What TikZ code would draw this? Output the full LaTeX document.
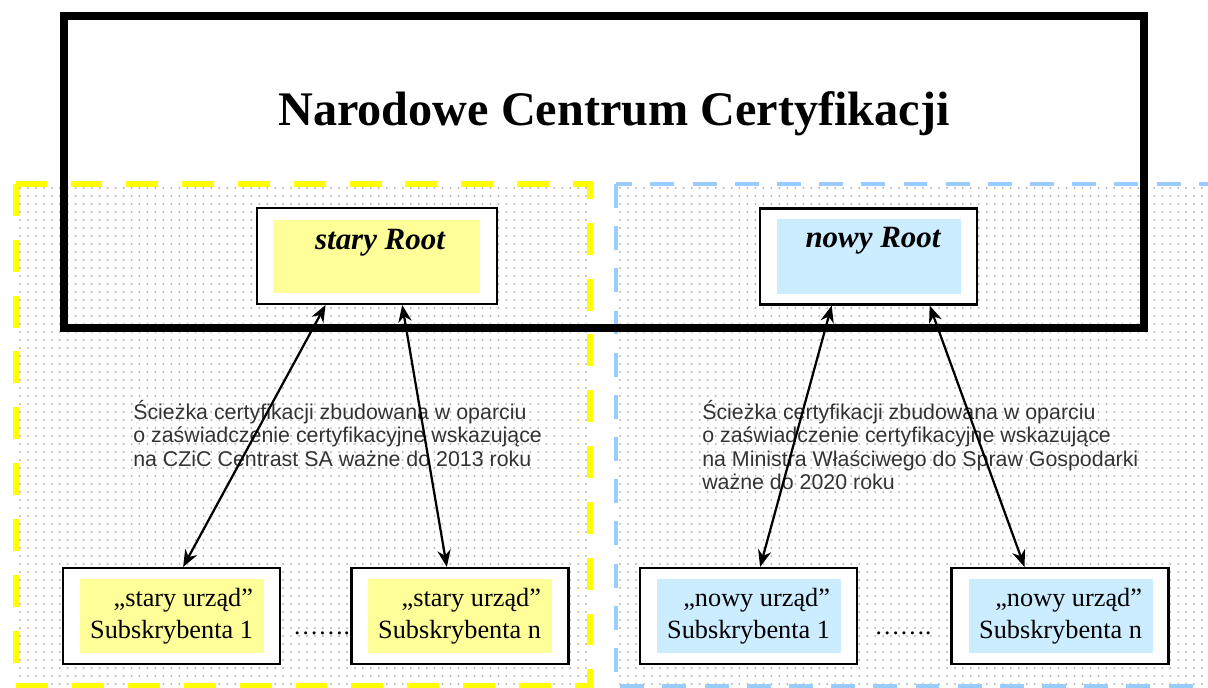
\documentclass[tikz,border=0pt]{standalone}
\usepackage{fontspec}
\setmainfont{Liberation Serif}
\newfontfamily\arialfont{Liberation Sans}
\usetikzlibrary{arrows.meta,calc}

\definecolor{rootyellow}{HTML}{FFFF99}
\definecolor{rootblue}{HTML}{CCECFF}
\definecolor{dashyellow}{HTML}{FFFF00}
\definecolor{dashblue}{HTML}{99CCFF}

\tikzset{
	dotrow/.style={gray!55, line width=1.6pt, line cap=round, dash pattern=on 0pt off 5.67pt},
	outerbox/.style={draw=black, line width=1.5pt, fill=white, minimum width=5.425cm, minimum height=2.4cm, inner sep=0pt},
	innerbox/.style={inner sep=0pt, minimum width=4.6cm, minimum height=1.85cm},
	subtext/.style={font=\fontsize{18.7}{22.7}\selectfont, align=right, anchor=east, inner sep=0pt},
	roottext/.style={font=\fontsize{22}{26}\selectfont\bfseries\itshape, anchor=base, inner sep=0pt},
	pathtext/.style={font=\arialfont\fontsize{15.2}{16.6}\selectfont, text=black!80, align=left, anchor=north west, inner sep=0pt},
	conn/.style={{Stealth[length=12pt,width=9.5pt]}-{Stealth[length=12pt,width=9.5pt]}, line width=1.6pt}
}

\begin{document}
\begin{tikzpicture}[x=0.025cm, y=-0.025cm]
			\useasboundingbox (0,0) rectangle (1208,688);
			\fill[white] (0,0) rectangle (1208,688);
			
			% Dotted background of the two regions
			\foreach \row in {188,196,...,684} {
				\draw[dotrow] (20,\row) -- (588,\row);
				\draw[dotrow] (620,\row) -- (1208,\row);
			}
			
			% Dashed borders of the two regions
			\draw[dashyellow, line width=4.2pt, dash pattern=on 22.7pt off 17pt] (16,184) rectangle (590,686);
			\draw[dashblue, line width=3.5pt, dash pattern=on 17pt off 13pt] (616,184) rectangle (1240,686);
			
			% Draw the certification centre frame
			\draw[line width=5.7pt] (64,16) rectangle (1144,328);
			\node[font=\fontsize{34.3}{40}\selectfont\bfseries, anchor=base, inner sep=0pt] (ncc) at (614,126) {Narodowe Centrum Certyfikacji};
			
			% Root boxes
			\node[outerbox, minimum width=6cm] (sroot) at (377,256) {};
			\node[innerbox, fill=rootyellow, minimum width=5.175cm, minimum height=1.825cm] (sroot-in) at (376.5,256.5) {};
			\node[roottext] (sroot-t) at (380,250) {stary Root};
			
			\node[outerbox] (nroot) at (868.5,256.5) {};
			\node[innerbox, fill=rootblue, minimum height=1.875cm] (nroot-in) at (869,256.5) {};
			\node[roottext] (nroot-t) at (873,248) {nowy Root};
			
			% Subscriber boxes
			\node[outerbox] (ssub1) at (171.5,616) {};
			\node[innerbox, fill=rootyellow] (ssub1-in) at (172,616) {};
			\node[subtext] (ssub1-t) at ($(ssub1-in.east)+(-11,0)$) {„stary urząd”\\Subskrybenta 1};
			
			\node[outerbox] (ssubn) at (460,616) {};
			\node[innerbox, fill=rootyellow] (ssubn-in) at (460,616) {};
			\node[subtext] (ssubn-t) at ($(ssubn-in.east)+(-11,0)$) {„stary urząd”\\Subskrybenta n};
			
			\node[outerbox] (nsub1) at (748.5,616) {};
			\node[innerbox, fill=rootblue] (nsub1-in) at (749,616) {};
			\node[subtext] (nsub1-t) at ($(nsub1-in.east)+(-11,0)$) {„nowy urząd”\\Subskrybenta 1};
			
			\node[outerbox] (nsubn) at (1060,616) {};
			\node[innerbox, fill=rootblue] (nsubn-in) at (1061,616) {};
			\node[subtext] (nsubn-t) at ($(nsubn-in.east)+(-11,0)$) {„nowy urząd”\\Subskrybenta n};
			
			% Dots between the subscriber boxes
			\node[font=\fontsize{18}{22}\selectfont, anchor=base, inner sep=0pt] (sdots) at (321.5,634) {…….};
			\node[font=\fontsize{18}{22}\selectfont, anchor=base, inner sep=0pt] (ndots) at (903,634) {…….};
			
			% Path descriptions
			\node[pathtext] (spath) at (133,400) {Ścieżka certyfikacji zbudowana w oparciu\\o zaświadczenie certyfikacyjne wskazujące\\na CZiC Centrast SA ważne do 2013 roku};
			\node[pathtext] (npath) at (702,400) {Ścieżka certyfikacji zbudowana w oparciu\\o zaświadczenie certyfikacyjne wskazujące\\na Ministra Właściwego do Spraw Gospodarki\\ważne do 2020 roku};
			
			% Certification paths
			\draw[conn] ($(sroot.south west)!0.2875!(sroot.south east)$) -- ($(ssub1.north west)!0.553!(ssub1.north east)$);
			\draw[conn] ($(sroot.south west)!0.604!(sroot.south east)$) -- ($(ssubn.north west)!0.44!(ssubn.north east)$);
			\draw[conn] ($(nroot.south west)!0.332!(nroot.south east)$) -- ($(nsub1.north west)!0.553!(nsub1.north east)$);
			\draw[conn] ($(nroot.south west)!0.779!(nroot.south east)$) -- ($(nsubn.north west)!0.338!(nsubn.north east)$);
		\end{tikzpicture}
\end{document}
